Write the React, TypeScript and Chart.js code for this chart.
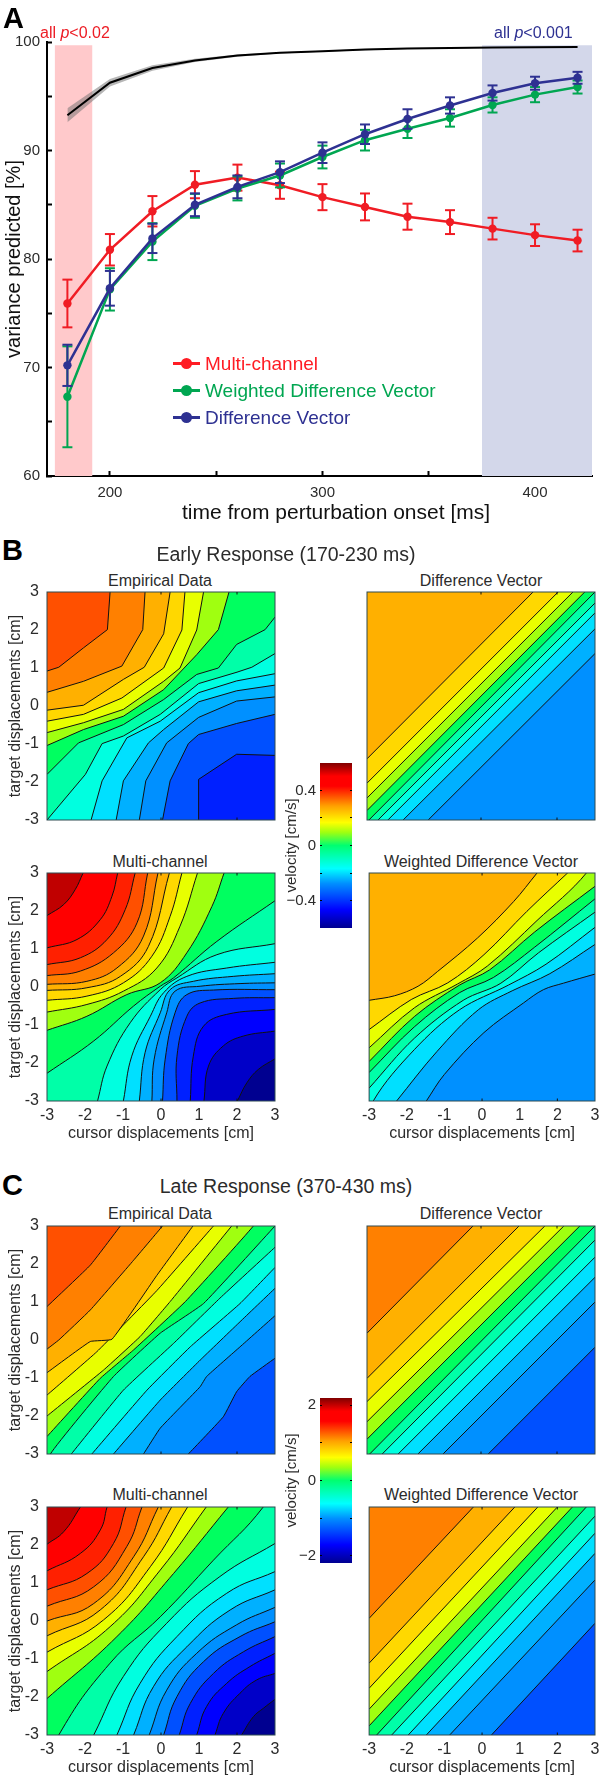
import React, { useEffect, useRef } from "react";
import { Chart, registerables } from "chart.js";
Chart.register(...registerables);

type Pt = number[];
const FONT = "'Liberation Sans', Arial, sans-serif";
const INK = "#2b2b2b";
const RED = "#ed1c24", GREEN = "#00a651", BLUE = "#2e3192";

// ---------- Panel A ----------
const times = [180, 200, 220, 240, 260, 280, 300, 320, 340, 360, 380, 400, 420];
const multiChannel = [75.9, 80.85, 84.4, 86.85, 87.5, 86.8, 85.7, 84.8, 83.9, 83.4, 82.8, 82.2, 81.7];
const multiChannelErr = [2.2, 1.45, 1.4, 1.25, 1.2, 1.25, 1.2, 1.24, 1.2, 1.1, 1.0, 1.0, 1.0];
const weighted = [67.3, 77.2, 81.6, 84.9, 86.5, 87.7, 89.4, 90.95, 92.0, 93.0, 94.2, 95.15, 95.85];
const weightedErr = [4.65, 1.95, 1.7, 1.1, 1.1, 1.1, 1.05, 0.95, 0.85, 0.8, 0.7, 0.7, 0.6];
const difference = [70.2, 77.3, 81.9, 85.0, 86.65, 88.0, 89.8, 91.5, 92.9, 94.15, 95.3, 96.2, 96.7];
const differenceErr = [1.9, 1.6, 1.35, 1.05, 1.05, 1.0, 0.95, 0.9, 0.9, 0.75, 0.7, 0.6, 0.55];
const ceiling = [93.25, 96.25, 97.6, 98.3, 98.75, 99.0, 99.15, 99.3, 99.4, 99.45, 99.5, 99.52, 99.55];
const ceilingBand = [0.65, 0.35, 0.25, 0.15, 0.1, 0.05, 0.05, 0.05, 0.05, 0.05, 0.05, 0.05, 0.05];
const earlyWindow = [174, 191.8];
const lateWindow = [375, 426.8];
const bandTop = 99.7;
const xTicksA = [200, 250, 300, 350, 400];
const xLabelsA = [200, 300, 400];
const yTicksA = [60, 65, 70, 75, 80, 85, 90, 95, 100];
const yLabelsA = [60, 70, 80, 90, 100];

// ---------- contour levels ----------
const levelColors = ["#c00000", "#ff0000", "#ff2000", "#ff5000", "#ff8000", "#ffb000", "#ffd800", "#e8ff00", "#a0ff10", "#00ff60", "#00ffa8", "#00ffe0", "#00e0ff", "#00b0ff", "#0090ff", "#0050ff", "#0020ff", "#0000ff", "#0000c8", "#000090"];
const gridTicks = [-3, -2, -1, 0, 1, 2, 3];
const frameTicks = [0, 2];

const earlyEmpirical: Pt[][] = [
  [[-3, .92], [-2.69, 1.02], [-2.04, 1.53], [-1.41, 2.01], [-1.34, 3]],
  [[-3, .36], [-2.04, .65], [-1.03, 1.05], [-.48, 2.01], [-.42, 3]],
  [[-3, -.11], [-2.04, .02], [-.99, .7], [-.44, 1.02], [.07, 1.9], [.24, 3]],
  [[-3, -.4], [-2.04, -.22], [-1.03, .21], [.07, 1.0], [.55, 2.0], [.63, 3]],
  [[-3, -.7], [-2.04, -.44], [-.99, -.09], [.07, .65], [.5, 1.0], [.94, 2.0], [1.12, 3]],
  [[-3, -1.04], [-2.04, -.62], [-.99, -.27], [.07, .43], [.94, 1.35], [1.51, 2.01], [1.79, 3]],
  [[-3, -1.8], [-2.17, -.97], [-.99, -.49], [.07, .17], [.94, .83], [1.51, 1.0], [1.99, 1.62], [2.74, 2.01], [3, 2.34]],
  [[-3, -3], [-1.99, -1.8], [-1.55, -.99], [-.99, -.79], [-.02, -.22], [.99, .59], [2, .89], [2.39, 1.02], [3, 1.38]],
  [[-1.84, -3], [-1.55, -1.97], [-.9, -.84], [-.02, -.4], [.99, .35], [1.99, .66], [3, .85]],
  [[-1.18, -3], [-.99, -1.97], [-.33, -.97], [.07, -.62], [.99, .11], [1.99, .4], [3, .55]],
  [[-.57, -3], [-.4, -1.97], [.15, -.97], [.99, -.3], [1.99, .13], [3, .24]],
  [[.04, -3], [.24, -1.97], [.72, -.99], [.99, -.75], [1.99, -.46], [3, -.22]],
  [[.99, -3], [.99, -1.93], [1.99, -1.27], [3, -1.3]],
];
const earlyDifference: Pt[][] = [
  [[-3, -1.39], [1.37, 3]], [[-3, -2.03], [2.03, 3]], [[-3, -2.42], [2.42, 3]], [[-3, -2.75], [2.73, 3]],
  [[-2.95, -3], [3, 3]], [[-2.71, -3], [3, 2.71]], [[-2.45, -3], [3, 2.45]], [[-2.05, -3], [3, 2.03]], [[-1.39, -3], [3, 1.38]],
];
const earlyMulti: Pt[][] = [
  [[-3, 1.88], [-2.56, 2.17], [-2.26, 2.56], [-2.05, 3]],
  [[-3, 1.03], [-2.21, 1.25], [-1.6, 1.77], [-1.29, 2.39], [-1.14, 3]],
  [[-3, .59], [-2.12, .77], [-1.42, 1.25], [-.94, 2.04], [-.68, 3]],
  [[-3, .3], [-2.12, .42], [-1.25, .9], [-.63, 1.69], [-.35, 3]],
  [[-3, .07], [-1.95, .15], [-1.16, .5], [-.46, 1.34], [-.08, 3]],
  [[-3, -.09], [-1.95, -.02], [-1.07, .28], [-.33, 1.07], [.22, 3]],
  [[-3, -.35], [-1.95, -.24], [-.99, .11], [-.24, .81], [.24, 1.86], [.55, 3]],
  [[-3, -.66], [-1.95, -.46], [-.99, -.11], [-.11, .5], [.5, 1.6], [.96, 3]],
  [[-3, -1.14], [-1.95, -.77], [-.9, -.2], [-.02, .11], [.68, .9], [1.34, 2.12], [1.66, 3]],
  [[-3, -2.27], [-1.77, -1.42], [-.72, -.5], [-.02, .02], [.33, .24], [1.47, 1.2], [3, 2.27]],
  [[-1.67, -3], [-1.42, -2.08], [-.81, -.94], [-.02, -.07], [.42, .24], [1.47, .85], [3, 1.14]],
  [[-.99, -3], [-.77, -1.82], [-.28, -.77], [.07, -.15], [.68, .28], [1.73, .5], [3, .65]],
  [[-.57, -3], [-.42, -1.73], [-.02, -.68], [.24, -.07], [.85, .15], [1.9, .28], [3, .35]],
  [[-.24, -3], [-.18, -1.9], [.15, -.68], [.37, -.11], [1.03, .02], [2.08, .09], [3, .11]],
  [[.04, -3], [.11, -1.9], [.37, -.68], [.68, -.2], [1.38, -.08], [3, -.07]],
  [[.42, -3], [.42, -1.82], [.68, -.77], [1.03, -.42], [1.9, -.3], [3, -.28]],
  [[.77, -3], [.85, -1.82], [1.12, -1.03], [1.73, -.72], [3, -.59]],
  [[1.13, -3], [1.25, -2.08], [1.64, -1.55], [2.17, -1.29], [3, -1.16]],
  [[2.01, -3], [2.26, -2.52], [2.56, -2.17], [3, -1.89]],
];
const earlyWeighted: Pt[][] = [
  [[-3, -.35], [-2.32, -.23], [-1.7, .02], [-1.18, .41], [-.12, 1.29], [.84, 2.25], [1.46, 3]],
  [[-3, -1.12], [-1.88, -.33], [-.91, .11], [.05, .85], [1.19, 1.99], [2.27, 3]],
  [[-3, -1.6], [-1.8, -.55], [-.65, .08], [.14, .55], [1.46, 1.75], [2.77, 3]],
  [[-3, -1.96], [-1.8, -.78], [-.6, .05], [.2, .45], [1.4, 1.45], [3, 2.65]],
  [[-3, -2.25], [-1.8, -1.05], [-.6, -.15], [.3, .25], [1.4, 1.05], [3, 2.32]],
  [[-3, -2.66], [-1.8, -1.35], [-.5, -.35], [.5, .1], [1.5, .9], [3, 1.97]],
  [[-2.89, -3], [-1.8, -1.65], [-.6, -.6], [.7, .05], [1.7, .6], [3, 1.57]],
  [[-2.27, -3], [-1.2, -1.7], [-.1, -.6], [.8, -.1], [1.8, .35], [3, 1.12]],
  [[-1.48, -3], [-1, -2.3], [.05, -1.2], [1.1, -.42], [1.63, -.07], [2.16, .1], [3, .34]],
];
const lateEmpirical: Pt[][] = [
  [[-3, .88], [-1.86, 1.97], [-1.07, 3]],
  [[-3, -.24], [-2.69, 0], [-1.86, .79], [-.72, 2.1], [.04, 3]],
  [[-3, -.86], [-1.86, -.04], [-1.29, .02], [-.11, 1.7], [.84, 3]],
  [[-3, -1.45], [-1.69, -.31], [-.11, 1.3], [1.38, 3]],
  [[-3, -2], [-1.51, -.79], [-.55, .09], [.24, 1.01], [1.86, 3]],
  [[-3, -2.54], [-1.6, -1.01], [-.72, -.26], [.64, 1.01], [2.43, 3]],
  [[-2.91, -3], [-1.25, -.96], [-.02, .18], [1.12, .96], [3, 3]],
  [[-2.36, -3], [-.99, -1.32], [.33, -.09], [1.55, 1.1], [3, 2.44]],
  [[-1.82, -3], [-.37, -1.32], [.77, -.18], [2.08, .96], [3, 1.91]],
  [[-1.25, -3], [-.02, -1.58], [1.03, -.53], [2.08, .48], [3, 1.36]],
  [[-.46, -3], [-.02, -2.32], [1.03, -1.23], [1.2, -.96], [2.08, -.18], [3, .64]],
  [[.72, -3], [1.64, -2.02], [1.99, -1.36], [2.34, -.96], [3, -.48]],
];
const lateDifference: Pt[][] = [
  [[-3, .18], [-.21, 3]], [[-3, -1.01], [1, 3]], [[-3, -1.62], [1.68, 3]], [[-3, -2.15], [2.18, 3]], [[-3, -2.61], [2.6, 3]],
  [[-2.93, -3], [3, 3]], [[-2.6, -3], [3, 2.63]], [[-2.18, -3], [3, 2.18]], [[-1.66, -3], [3, 1.65]], [[-1, -3], [3, 1]], [[.19, -3], [3, -.19]],
];
const lateMulti: Pt[][] = [
  [[-3, 2.02], [-2.56, 2.35], [-2.12, 3]],
  [[-3, 1.32], [-2.12, 1.78], [-1.6, 2.39], [-1.42, 3]],
  [[-3, .82], [-1.95, 1.25], [-1.25, 2.04], [-.92, 3]],
  [[-3, .39], [-1.77, .9], [-.9, 1.96], [-.5, 3]],
  [[-3, 0], [-1.77, .46], [-.72, 1.69], [-.07, 3]],
  [[-3, -.39], [-1.6, .29], [-.46, 1.69], [.28, 3]],
  [[-3, -.82], [-1.51, .03], [-.28, 1.43], [.7, 3]],
  [[-3, -1.33], [-1.34, -.15], [-.02, 1.34], [1.19, 3]],
  [[-3, -2.04], [-1.16, -.41], [.33, 1.25], [1.77, 3]],
  [[-2.69, -3], [-1.34, -1.11], [-.02, .11], [1.38, 1.6], [2.69, 3]],
  [[-1.77, -3], [-.99, -1.46], [.15, -.06], [1.55, 1.17], [3, 2.04]],
  [[-1.16, -3], [-.55, -1.64], [.42, -.41], [1.73, .73], [3, 1.3]],
  [[-.72, -3], [-.2, -1.73], [.68, -.68], [1.82, .29], [3, .82]],
  [[-.31, -3], [.15, -1.82], [.94, -.85], [1.99, -.1], [3, .36]],
  [[.07, -3], [.42, -1.99], [1.12, -1.07], [2.08, -.41], [3, -.02]],
  [[.48, -3], [.77, -2.17], [1.38, -1.38], [2.17, -.81], [3, -.41]],
  [[.94, -3], [1.2, -2.25], [1.73, -1.64], [2.34, -1.2], [3, -.85]],
  [[1.42, -3], [1.64, -2.43], [2.08, -1.9], [2.52, -1.55], [3, -1.38]],
  [[2.12, -3], [2.43, -2.52], [2.69, -2.3], [3, -2.06]],
];
const lateWeighted: Pt[][] = [
  [[-3, .07], [-.23, 3]], [[-3, -1.11], [.87, 3]], [[-3, -1.77], [1.48, 3]], [[-3, -2.32], [2, 3]], [[-3, -2.76], [2.4, 3]],
  [[-2.8, -3], [2.77, 3]], [[-2.4, -3], [3, 2.76]], [[-1.96, -3], [3, 2.31]], [[-1.48, -3], [3, 1.78]], [[-.86, -3], [3, 1.08]], [[.25, -3], [3, -.06]],
];

// ---------- colour bars ----------
const earlyBarRange = [-0.6, 0.6];
const earlyBarTicks = [-0.4, -0.2, 0, 0.2, 0.4];
const earlyBarLabels = [-0.4, 0, 0.4];
const lateBarRange = [-2.19, 2.19];
const lateBarTicks = [-2, -1, 0, 1, 2];
const lateBarLabels = [-2, 0, 2];
const barStops: [number, string][] = [[0, "#00008f"], [.11, "#0000ff"], [.27, "#0090ff"], [.36, "#00ffff"], [.5, "#00ff70"], [.58, "#a0ff10"], [.64, "#ffff00"], [.74, "#ffa000"], [.86, "#ff0000"], [.92, "#ff0000"], [1, "#800000"]];

const framePlugin = {
  id: "frame",
  afterDraw(chart: any) {
    const a = chart.chartArea, c = chart.ctx;
    c.save();
    c.strokeStyle = "#2f4a50";
    c.lineWidth = 1;
    c.strokeRect(a.left, a.top, a.right - a.left, a.bottom - a.top);
    c.strokeStyle = "#111";
    frameTicks.forEach((v) => {
      const x = chart.scales.x.getPixelForValue(v);
      c.beginPath();
      c.moveTo(x, a.top); c.lineTo(x, a.top + 2.5);
      c.moveTo(x, a.bottom); c.lineTo(x, a.bottom - 2.5);
      c.stroke();
    });
    c.restore();
  },
};

function useChart(make: (c: HTMLCanvasElement) => Chart) {
  const ref = useRef<HTMLCanvasElement>(null);
  useEffect(() => {
    const chart = make(ref.current!);
    return () => chart.destroy();
  }, []);
  return ref;
}

const errorPoints = (vals: number[], errs: number[]) =>
  times.flatMap((t, i) => [{ x: t, y: vals[i] + errs[i] }, { x: t, y: vals[i] - errs[i] }, { x: t, y: null as any }]);
const series = (vals: number[]) => times.map((t, i) => ({ x: t, y: vals[i] }));

function PanelA() {
  const ref = useChart((c) => {
    const line = (vals: number[], color: string, lw = 2.5) => ({
      data: series(vals), borderColor: color, backgroundColor: color, borderWidth: lw, pointRadius: 4.2, pointBorderWidth: 0, pointBackgroundColor: color,
    });
    const err = (vals: number[], errs: number[], color: string) => ({
      data: errorPoints(vals, errs), borderColor: color, borderWidth: 2, pointStyle: "line", pointRadius: 5, pointBorderWidth: 2, pointBorderColor: color, spanGaps: false,
    });
    const band = (range: number[], color: string) => ({
      data: range.map((x) => ({ x, y: bandTop })), borderWidth: 0, pointRadius: 0, fill: "start", backgroundColor: color, borderColor: "transparent",
    });
    return new Chart(c, {
      type: "line",
      data: {
        datasets: [
          line(difference, BLUE), err(difference, differenceErr, BLUE),
          line(weighted, GREEN), err(weighted, weightedErr, GREEN),
          line(multiChannel, "#f01c24"), err(multiChannel, multiChannelErr, "#f01c24"),
          { data: series(ceiling), borderColor: "#000", borderWidth: 2, pointRadius: 0 },
          { data: series(ceiling.map((v, i) => v + ceilingBand[i])), borderWidth: 0, pointRadius: 0, fill: "+1", backgroundColor: "rgba(110,110,110,0.5)", borderColor: "transparent" },
          { data: series(ceiling.map((v, i) => v - ceilingBand[i])), borderWidth: 0, pointRadius: 0, borderColor: "transparent" },
          band(earlyWindow, "#ffc9cb"), band(lateWindow, "#d3d7ea"),
        ] as any,
      },
      options: {
        animation: false, responsive: false,
        layout: { padding: { top: 42, right: 8, left: 0, bottom: 0 } },
        plugins: { legend: { display: false }, tooltip: { enabled: false } },
        scales: {
          x: {
            type: "linear", min: 170.4, max: 426.8,
            afterFit(s: any) { s.height = 48; },
            afterBuildTicks(s: any) { s.ticks = xTicksA.map((value) => ({ value })); },
            border: { color: "#000", width: 2 },
            grid: { drawOnChartArea: false, tickLength: -5, tickColor: "#000", tickWidth: 2 },
            ticks: { autoSkip: false, maxRotation: 0, padding: 13, color: INK, font: { family: FONT, size: 15 }, callback: (v: any) => (xLabelsA.includes(v) ? String(v) : "") },
          },
          y: {
            min: 60, max: 100,
            afterFit(s: any) { s.width = 47; },
            afterBuildTicks(s: any) { s.ticks = yTicksA.map((value) => ({ value })); },
            border: { color: "#000", width: 2 },
            grid: { drawOnChartArea: false, tickLength: -5, tickColor: "#000", tickWidth: 2 },
            ticks: { autoSkip: false, padding: 12, color: INK, font: { family: FONT, size: 15 }, callback: (v: any) => (yLabelsA.includes(v) ? String(v) : "") },
            title: { display: true, text: "variance predicted [%]", color: "#111", font: { family: FONT, size: 20 }, padding: { top: 2, bottom: 0 } },
          },
        },
      } as any,
    });
  });
  return <canvas ref={ref} width={600} height={524} style={{ position: "absolute", left: 0, top: 0 }} />;
}

// A contour runs off the plot at both ends so the fill covers the far corner; the plot clips the extra part.
const closeLine = (pts: Pt[]) => {
  const out = pts.map(([x, y]) => ({ x, y }));
  const a = out[0], a2 = out[1];
  if (a.x > -3) {
    out.unshift({ x: Math.max(-3, a.x - (a2.x - a.x) * 0.5), y: a.y - (a2.y - a.y) * 0.5 });
    out.unshift({ x: -3, y: -9 });
  }
  const z = out[out.length - 1], z2 = out[out.length - 2];
  if (z.x < 3) {
    out.push({ x: Math.min(3, z.x + (z.x - z2.x) * 0.5), y: z.y + (z.y - z2.y) * 0.5 });
    out.push({ x: 3, y: 9 });
  }
  return out;
};

const TOP_PAD = 20;
function Contour({ lines, start, left, top, yAxis, xAxis, tension }: { lines: Pt[][]; start: number; left: boolean; top: number; yAxis: boolean; xAxis: boolean; tension: number }) {
  const padL = left ? 0 : 10;
  const ref = useChart((c) => {
    const datasets: any[] = lines.map((pts, i) => ({
      data: closeLine(pts), borderColor: "#111", borderWidth: 1, pointRadius: 0, fill: "end", tension, capBezierPoints: false,
      backgroundColor: levelColors[start + i],
    }));
    datasets.push({ data: [{ x: -3, y: 3 }, { x: 3, y: 3 }], borderWidth: 0, pointRadius: 0, fill: "start", borderColor: "transparent", backgroundColor: levelColors[start + lines.length] });
    const font = { family: FONT, size: 16 };
    const grid = { display: false, drawTicks: false, tickLength: 0 };
    return new Chart(c, {
      type: "line",
      data: { datasets },
      options: {
        animation: false, responsive: false,
        layout: { padding: { top: TOP_PAD, right: 12, left: padL, bottom: 0 } },
        plugins: { legend: { display: false }, tooltip: { enabled: false } },
        scales: {
          x: {
            type: "linear", min: -3, max: 3,
            afterFit(s: any) { s.height = 42; },
            afterBuildTicks(s: any) { s.ticks = gridTicks.map((value) => ({ value })); },
            border: { display: false }, grid,
            ticks: { display: xAxis, autoSkip: false, maxRotation: 0, padding: 5, color: INK, font, callback: (v: any) => String(v) },
            title: { display: xAxis, text: "cursor displacements [cm]", color: INK, font, padding: { top: 0, bottom: 0 } },
          },
          y: {
            display: yAxis, min: -3, max: 3,
            afterFit(s: any) { if (yAxis) s.width = 47; },
            afterBuildTicks(s: any) { s.ticks = gridTicks.map((value) => ({ value })); },
            border: { display: false }, grid,
            ticks: { autoSkip: false, padding: 8, color: INK, font, callback: (v: any) => String(v) },
            title: { display: true, text: "target displacements [cm]", color: INK, font, padding: { top: 6, bottom: 0 } },
          },
        },
      } as any,
      plugins: [framePlugin],
    });
  });
  return <canvas ref={ref} width={left ? 287 : 250} height={TOP_PAD + 270} style={{ position: "absolute", left: left ? 0 : 357, top: top - TOP_PAD }} />;
}

function ColorBar({ range, ticks, labels, top }: { range: number[]; ticks: number[]; labels: number[]; top: number }) {
  const ref = useChart((c) => new Chart(c, {
    type: "bar",
    data: {
      labels: ["velocity"],
      datasets: [{
        data: [range as any], barPercentage: 1, categoryPercentage: 1, borderWidth: 0, borderSkipped: false,
        backgroundColor: (ctx: any) => {
          const a = ctx.chart.chartArea;
          if (!a) return "#000";
          const g = ctx.chart.ctx.createLinearGradient(0, a.bottom, 0, a.top);
          barStops.forEach(([p, col]) => g.addColorStop(p, col));
          return g;
        },
      }],
    },
    options: {
      animation: false, responsive: false,
      layout: { padding: { top: 20, bottom: 20, left: 0, right: 0 } },
      plugins: { legend: { display: false }, tooltip: { enabled: false } },
      scales: {
        x: { display: false },
        y: {
          min: range[0], max: range[1],
          afterFit(s: any) { s.width = 38; },
          afterBuildTicks(s: any) { s.ticks = ticks.map((value) => ({ value })); },
          border: { display: false },
          grid: { z: 1, drawOnChartArea: false, tickLength: -2, tickColor: "#000", tickWidth: 1 },
          ticks: {
            autoSkip: false, padding: 6, color: INK, font: { family: FONT, size: 15 },
            callback: (v: any) => (labels.includes(v) ? String(v).replace("-", "\u2212") : ""),
          },
          title: { display: true, text: "velocity [cm/s]", color: INK, font: { family: FONT, size: 15 }, padding: { top: 1, bottom: 0 } },
        },
        y2: {
          position: "right", min: range[0], max: range[1],
          afterFit(s: any) { s.width = 0; },
          afterBuildTicks(s: any) { s.ticks = ticks.map((value) => ({ value })); },
          border: { display: false },
          grid: { z: 1, drawOnChartArea: false, tickLength: -2, tickColor: "#000", tickWidth: 1 },
          ticks: { display: false },
        },
      },
    } as any,
  }));
  return <canvas ref={ref} width={70} height={205} style={{ position: "absolute", left: 282, top: top - 20 }} />;
}

function Text({ x, y, children, size = 16, color = INK, weight = 400, center = true }: any) {
  return (
    <div style={{ position: "absolute", left: x, top: y, transform: center ? "translate(-50%,-50%)" : "translate(0,-50%)", whiteSpace: "nowrap", fontFamily: FONT, fontSize: size, fontWeight: weight, color, lineHeight: 1 }}>
      {children}
    </div>
  );
}

function LegendRow({ y, color, label }: { y: number; color: string; label: string }) {
  return (
    <>
      <div style={{ position: "absolute", left: 173, top: y - 1, width: 27, height: 2.5, background: color }} />
      <div style={{ position: "absolute", left: 181, top: y - 5, width: 11, height: 11, borderRadius: "50%", background: color }} />
      <Text x={205} y={y} size={19} color={color} center={false}>{label}</Text>
    </>
  );
}

export default function App() {
  return (
    <div style={{ position: "absolute", left: 0, top: 0, width: 600, height: 1777, overflow: "hidden", background: "#fff" }}>
      <PanelA />
      <Text x={336} y={511} size={21} color="#111">time from perturbation onset [ms]</Text>
      <Text x={40} y={33} size={16} color={RED} center={false}>all <i>p</i>&lt;0.02</Text>
      <Text x={494} y={33} size={16} color={BLUE} center={false}>all <i>p</i>&lt;0.001</Text>
      <LegendRow y={363} color="#ff1c24" label="Multi-channel" />
      <LegendRow y={390} color={GREEN} label="Weighted Difference Vector" />
      <LegendRow y={417} color={BLUE} label="Difference Vector" />

      <Text x={3} y={18} size={29} color="#000" weight={700} center={false}>A</Text>
      <Text x={2} y={550} size={29} color="#000" weight={700} center={false}>B</Text>
      <Text x={2} y={1185} size={29} color="#000" weight={700} center={false}>C</Text>

      <Text x={286} y={555} size={19.5}>Early Response (170-230 ms)</Text>
      <Text x={286} y={1187} size={19.5}>Late Response (370-430 ms)</Text>

      <Text x={160} y={581}>Empirical Data</Text>
      <Text x={481} y={581}>Difference Vector</Text>
      <Text x={160} y={862}>Multi-channel</Text>
      <Text x={481} y={862}>Weighted Difference Vector</Text>
      <Text x={160} y={1214}>Empirical Data</Text>
      <Text x={481} y={1214}>Difference Vector</Text>
      <Text x={160} y={1495}>Multi-channel</Text>
      <Text x={481} y={1495}>Weighted Difference Vector</Text>

      <Contour lines={earlyEmpirical} start={3} left top={592} yAxis xAxis={false} tension={0} />
      <Contour lines={earlyDifference} start={5} left={false} top={592} yAxis={false} xAxis={false} tension={0} />
      <Contour lines={earlyMulti} start={0} left top={873} yAxis xAxis tension={0.4} />
      <Contour lines={earlyWeighted} start={5} left={false} top={873} yAxis={false} xAxis tension={0.35} />
      <Contour lines={lateEmpirical} start={3} left top={1226} yAxis xAxis={false} tension={0.1} />
      <Contour lines={lateDifference} start={4} left={false} top={1226} yAxis={false} xAxis={false} tension={0} />
      <Contour lines={lateMulti} start={0} left top={1507} yAxis xAxis tension={0.45} />
      <Contour lines={lateWeighted} start={4} left={false} top={1507} yAxis={false} xAxis tension={0} />

      <ColorBar range={earlyBarRange} ticks={earlyBarTicks} labels={earlyBarLabels} top={763} />
      <ColorBar range={lateBarRange} ticks={lateBarTicks} labels={lateBarLabels} top={1398} />
    </div>
  );
}
